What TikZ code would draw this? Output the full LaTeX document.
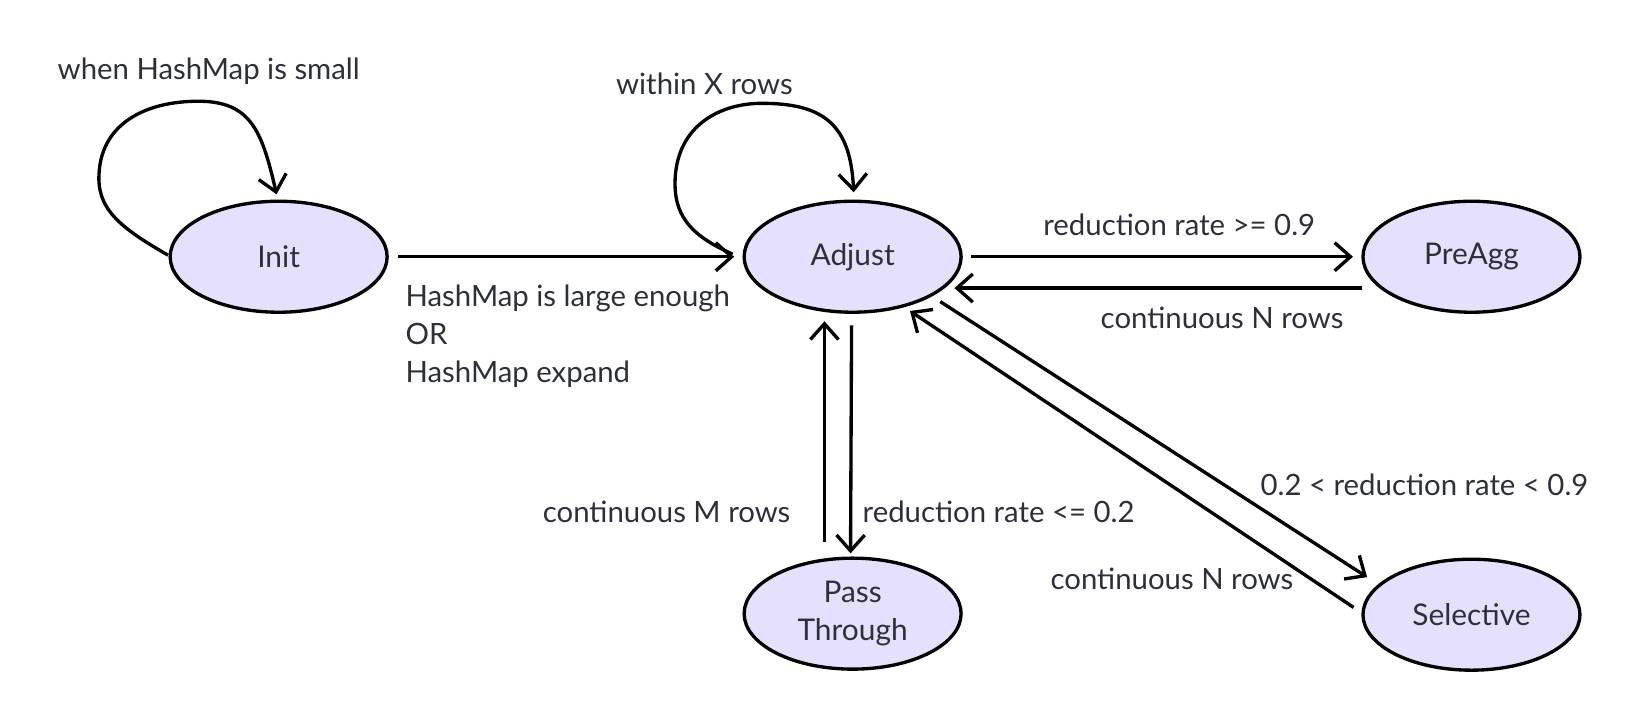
\documentclass[tikz,border=0pt]{standalone}
\usepackage{fontspec}
\setmainfont{Lato}
\usepackage{tikz}
\usetikzlibrary{arrows.meta, shapes.geometric}

\definecolor{statefill}{HTML}{E6E0FF}
\definecolor{textgray}{HTML}{2D3038}

\tikzset{
  state/.style={ellipse, draw=black, line width=0.95pt, fill=statefill,
    minimum width=2.17cm, minimum height=1.11cm, inner sep=0pt,
    text=textgray, align=center, font=\fontsize{8.5}{11}\selectfont},
  edge/.style={line width=0.95pt, -{Straight Barb[length=4.5pt, width=8pt]}},
  lbl/.style={text=textgray, font=\fontsize{8.35}{10.9}\selectfont, inner sep=0pt}
}

\begin{document}
\begin{tikzpicture}[x=0.010436cm, y=-0.010436cm]
\useasboundingbox (0,0) rectangle (1560,686);
% states
\node[state] (init) at (267,246) {Init};
\node[state] (adjust) at (817,246) {Adjust};
\node[state] (preagg) at (1410,246) {PreAgg};
\node[state] (pass) at (817,588) {Pass\\Through};
\node[state] (selective) at (1410,589) {Selective};
% free ends of the loops
\coordinate (initloop) at (161,244.5);
\coordinate (adjloop) at (702,243.5);
% self loops
\draw[edge] (initloop) .. controls (115,218) and (92,200) .. (95,165)
  .. controls (98,118) and (140,97) .. (190,97)
  .. controls (240,97) and (251,125) .. ([shift={(-2,-5)}]init.north);
\draw[edge] (adjloop) .. controls (660,225) and (645,205) .. (647,170)
  .. controls (650,120) and (690,99) .. (730,99)
  .. controls (790,99) and (815,120) .. ([shift={(1,-7)}]adjust.north);
% transitions
\draw[edge] ([shift={(9,0)}]init.east) -- ([shift={(-8,0)}]adjust.west);
\draw[edge] ([shift={(8,0)}]adjust.east) -- ([shift={(-8,0)}]preagg.west);
\draw[edge] ([shift={(1,30)}]preagg.west) -- ([shift={(-8,30)}]adjust.east);
\draw[edge] ([shift={(-1,11)}]adjust.south) -- ([shift={(-2,-3)}]pass.north);
\draw[edge] ([shift={(-27,-14)}]pass.north) -- ([shift={(-27,7)}]adjust.south);
\draw[edge] ([shift={(84,43)}]adjust.center) -- ([shift={(-100,-36)}]selective.center);
\draw[edge] ([shift={(-113,-7)}]selective.center) -- ([shift={(55,52)}]adjust.center);
% labels
\path
(200,68) node[lbl] (l1) {when HashMap is small};
\path
(675,80) node[lbl] (l2) {within X rows};
\path
(388,322) node[lbl, right, align=left] (l3) {HashMap is large enough\\OR\\HashMap expand};
\path
(1130,215) node[lbl] (l4) {reduction rate >= 0.9};
\path
(1171,305) node[lbl] (l5) {continuous N rows};
\path
(826,490) node[lbl, right] (l6) {reduction rate <= 0.2};
\path
(758,490) node[lbl, left] (l7) {continuous M rows};
\path
(1365,465) node[lbl] (l8) {0.2 < reduction rate < 0.9};
\path
(1123,555) node[lbl] (l9) {continuous N rows};
\end{tikzpicture}
\end{document}
